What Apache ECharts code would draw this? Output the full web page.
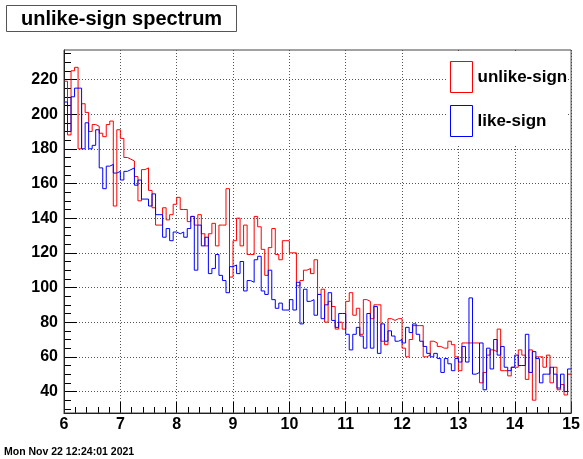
<!DOCTYPE html>
<html><head><meta charset="utf-8">
<script src="https://cdn.jsdelivr.net/npm/echarts@6/dist/echarts.min.js"></script>
<style>html,body{margin:0;padding:0;background:#fff}#c{width:583px;height:459px}</style>
</head><body><div id="c"></div>
<script>
const xMin = 6, xMax = 15, binWidth = 0.0625;
const titleText = 'unlike-sign spectrum';
const dateText = 'Mon Nov 22 12:24:01 2021';
const seriesNames = ['unlike-sign', 'like-sign'];
const unlikeSign = [
 219,188,225,227,180,206,201,190,194,193,189,187,194,196,147,191,186,175,174,173,
 164,150,168,169,156,146,136,136,146,139,142,148,152,145,145,138,141,136,142,131,
 124,131,137,124,136,136,157,106,127,140,124,136,119,119,141,135,122,107,123,134,
 119,116,127,127,120,120,101,104,110,111,108,116,96,99,80,92,89,76,80,76,
 92,97,84,88,73,93,92,82,90,90,69,67,82,81,82,82,65,60,70,78,
 78,78,60,61,69,68,66,65,65,69,67,60,52,68,68,68,68,68,45,51,
 61,64,63,76,52,52,49,54,54,64,61,47,64,35,60,60,54,61,45,54,
 41,44,38,50];
const likeSign = [
 207,190,210,215,215,180,195,180,182,191,169,157,170,171,166,167,162,167,168,169,
 159,162,151,151,147,154,142,142,129,134,127,132,131,132,129,134,141,110,136,124,
 129,108,111,119,107,104,97,112,113,108,115,98,104,103,116,118,98,96,110,93,
 88,91,87,87,93,87,103,79,99,92,93,84,96,82,90,97,81,77,85,85,
 73,64,73,77,72,65,85,65,89,62,79,69,75,72,69,70,68,77,74,79,
 73,69,66,62,60,62,59,51,59,56,52,59,57,66,57,94,50,51,68,41,
 65,53,70,61,66,54,52,54,61,55,55,73,51,63,59,45,50,50,54,50,
 42,50,40,53];
const yMajorTicks = [40,60,80,100,120,140,160,180,200,220];
const yMinorTicks = [30,35,45,50,55,65,70,75,85,90,95,105,110,115,125,130,135,145,150,155,165,170,175,185,190,195,205,210,215,225,230,235];
const yMin = 27.6, yMax = 237;

const FONT = "'Liberation Sans', Arial, Helvetica, sans-serif";
function toSteps(vals) {
  const pts = vals.map((v, i) => [xMin + i * binWidth, v]);
  pts.push([xMax, vals[vals.length - 1]]);
  return pts;
}
const gridPos = {left: 64, top: 50, width: 510, height: 363};
const chart = echarts.init(document.getElementById('c'), null, {renderer: 'canvas'});
chart.setOption({
  animation: false,
  backgroundColor: '#fff',
  title: {
    text: titleText, left: 6, top: 5, padding: [4, 15, 3, 15],
    borderColor: '#555', borderWidth: 1, backgroundColor: '#fff',
    textStyle: {fontSize: 20, fontWeight: 'bold', color: '#000', fontFamily: FONT}
  },
  graphic: [{
    type: 'text', left: 4, top: 447,
    style: {text: dateText, font: "bold 10.5px 'Liberation Sans', Arial, sans-serif", fill: '#000'}
  }],
  legend: {
    left: 447, top: 51, orient: 'vertical', backgroundColor: '#fff',
    padding: [10, 0, 7, 3], itemWidth: 22, itemHeight: 31, itemGap: 12,
    textStyle: {fontSize: 17, fontWeight: 'bold', color: '#000', fontFamily: FONT},
    data: [
      {name: seriesNames[0], icon: 'rect', itemStyle: {color: '#fff', borderColor: '#ff0000', borderWidth: 1}},
      {name: seriesNames[1], icon: 'rect', itemStyle: {color: '#fff', borderColor: '#0000ff', borderWidth: 1}}
    ]
  },
  grid: [
    Object.assign({show: true, borderColor: '#444', borderWidth: 1, z: 5}, gridPos),
    Object.assign({show: false}, gridPos)
  ],
  xAxis: [{
    type: 'value', min: xMin, max: xMax, interval: 1, gridIndex: 0,
    axisLine: {show: true, lineStyle: {color: '#000', width: 1}},
    axisTick: {show: true, inside: true, length: 11, lineStyle: {color: '#000'}},
    minorTick: {show: true, splitNumber: 5, length: 6, lineStyle: {color: '#000'}},
    axisLabel: {margin: 4, fontSize: 16, fontWeight: 'bold', color: '#000', fontFamily: FONT},
    splitLine: {show: true, lineStyle: {type: [1, 2], color: '#555', width: 1}}
  }, {
    type: 'value', min: xMin, max: xMax, gridIndex: 1, show: false
  }],
  yAxis: [{
    type: 'value', min: yMin, max: yMax, gridIndex: 0, position: 'left',
    axisLine: {show: true, lineStyle: {color: '#000', width: 1}},
    axisTick: {show: true, inside: true, length: 13, customValues: yMajorTicks, lineStyle: {color: '#000'}},
    axisLabel: {customValues: yMajorTicks, margin: 6, fontSize: 16, fontWeight: 'bold', color: '#000', fontFamily: FONT},
    splitLine: {show: true, lineStyle: {type: [1, 2], color: '#555', width: 1}}
  }, {
    type: 'value', min: yMin, max: yMax, gridIndex: 1, position: 'left',
    axisLine: {show: false},
    axisTick: {show: true, inside: true, length: 7, customValues: yMinorTicks, lineStyle: {color: '#000'}},
    axisLabel: {show: false},
    splitLine: {show: false}
  }],
  series: [{
    name: seriesNames[0], type: 'line', step: 'end', data: toSteps(unlikeSign),
    xAxisIndex: 0, yAxisIndex: 0, symbol: 'none', showSymbol: false,
    lineStyle: {color: '#ff0000', width: 1}, itemStyle: {color: '#ff0000'}
  }, {
    name: seriesNames[1], type: 'line', step: 'end', data: toSteps(likeSign),
    xAxisIndex: 0, yAxisIndex: 0, symbol: 'none', showSymbol: false,
    lineStyle: {color: '#0000ff', width: 1}, itemStyle: {color: '#0000ff'}
  }]
});
</script></body></html>
